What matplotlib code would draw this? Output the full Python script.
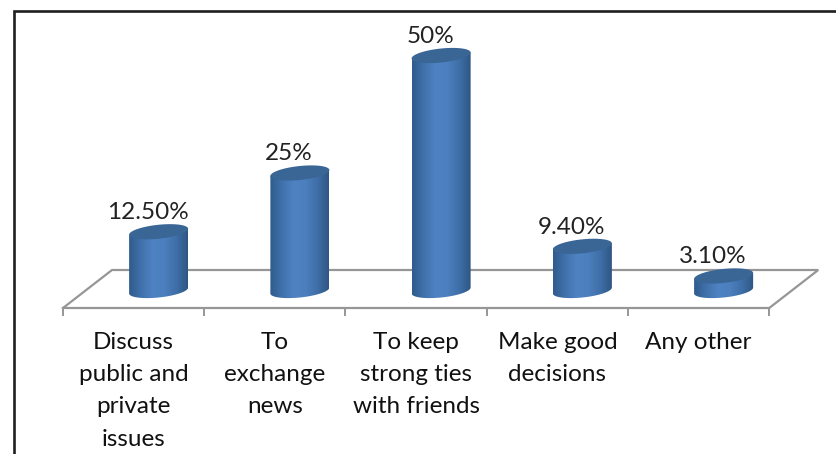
import numpy as np
import matplotlib
matplotlib.use("Agg")
import matplotlib.pyplot as plt
from matplotlib.patches import PathPatch
from matplotlib.path import Path
from matplotlib.colors import LinearSegmentedColormap

categories = ["Discuss\npublic and\nprivate\nissues", "To\nexchange\nnews",
              "To keep\nstrong ties\nwith friends", "Make good\ndecisions", "Any other"]
values = [12.5, 25, 50, 9.4, 3.1]
value_labels = ["12.50%", "25%", "50%", "9.40%", "3.10%"]

W, H = 837, 454
PX_X = 141.25      # pixels per category
PX_Y = 4.7         # pixels per percent
X0, Y0 = 63.0, 290.5  # pixel position of the left tick and of value zero
FONT = "Lato"

fig = plt.figure(figsize=(W / 100, H / 100), dpi=100)
ax = fig.add_axes([0, 0, 1, 1])
ax.set_xlim(-0.5 - X0 / PX_X, -0.5 + (W - X0) / PX_X)
ax.set_ylim(-(H - Y0) / PX_Y, Y0 / PX_Y)
ax.axis("off")

dx = lambda p: p / PX_X
dy = lambda p: p / PX_Y

# outer frame: left and top edges only
frame_x = [14.0 / W, 14.0 / W, 1]
frame_y = [0, 1 - 10.5 / H, 1 - 10.5 / H]
fig.add_artist(plt.Line2D(frame_x, frame_y, transform=fig.transFigure, color="#1f1f1f", lw=1.9,
                          solid_joinstyle="miter"))

# floor
n = len(categories)
fl, fr = -0.5, n - 0.5
front, back = dy(Y0 - 308), dy(Y0 - 270)
depth = dx(49)
grey = "#969696"
ax.plot([fl, fl + depth, fr + depth, fr, fl], [front, back, back, front, front], color=grey, lw=1.6,
        solid_joinstyle="miter", zorder=1)
for k in range(n + 1):
    ax.plot([fl + k, fl + k], [front, front - dy(7)], color=grey, lw=1.4, zorder=1)

cmap = LinearSegmentedColormap.from_list("cyl", ["#2f5b8c", "#4071ab", "#4f82c2", "#4c7fbe", "#3f6fa8", "#2d5683"])
grad = np.linspace(0, 1, 256)[None, :]
A, B, S = 29.5, 7.0, 0.1
t = np.linspace(0, 2 * np.pi, 121)
OFFSET = dx(25)

for i, (v, lab) in enumerate(zip(values, value_labels)):
    cx = i + OFFSET
    ex = dx(A) * np.cos(t)
    ey = dy(B) * np.sin(t) + dy(S * A) * np.cos(t)
    low = t[(t >= np.pi) & (t <= 2 * np.pi)]
    bx = cx + dx(A) * np.cos(low)
    by = dy(B) * np.sin(low) + dy(S * A) * np.cos(low)
    verts = np.column_stack([np.r_[bx, cx + dx(A), cx - dx(A)],
                             np.r_[by, v + dy(S * A), v - dy(S * A)]])
    path = Path(np.vstack([verts, verts[0]]), closed=True)
    patch = PathPatch(path, fc="none", ec="none", zorder=2)
    ax.add_patch(patch)
    im = ax.imshow(grad, cmap=cmap, extent=[cx - dx(A), cx + dx(A), -dy(20), v + dy(10)],
                   aspect="auto", zorder=2, interpolation="bilinear")
    im.set_clip_path(patch)
    ax.fill(cx + ex, v + ey, color="#3a6696", lw=0, zorder=3)
    ax.text(cx - dx(11), v + dy(8.5), lab, ha="center", va="bottom", fontsize=17.5, family=FONT, color="#222222", zorder=4)

for i, c in enumerate(categories):
    ax.text(i, dy(Y0 - 332), c, ha="center", va="top", fontsize=17.5, family=FONT, color="#111111",
            linespacing=1.66)

ax.set_xlim(-0.5 - X0 / PX_X, -0.5 + (W - X0) / PX_X)
ax.set_ylim(-(H - Y0) / PX_Y, Y0 / PX_Y)
fig.savefig("out.png", dpi=100)
